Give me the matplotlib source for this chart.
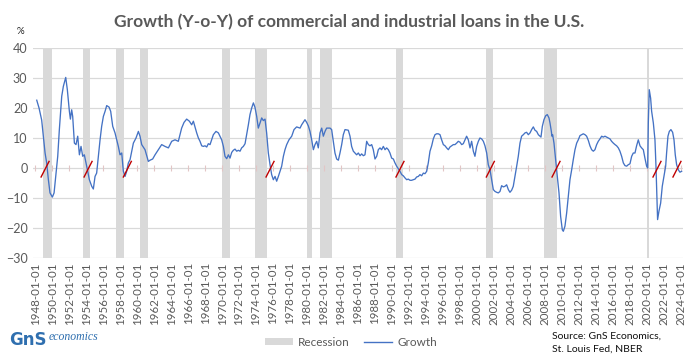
import matplotlib
matplotlib.use("Agg")
import matplotlib.pyplot as plt
from matplotlib.patches import Patch
from matplotlib.lines import Line2D

# ---------------- data ----------------
years = [
    1948.20, 1948.47, 1948.78, 1948.98, 1949.18, 1949.37, 1949.57, 1949.76, 1950.04, 1950.24,
    1950.47, 1950.67, 1950.86, 1951.14, 1951.33, 1951.61, 1951.80, 1952.04, 1952.16, 1952.31,
    1952.43, 1952.63, 1952.82, 1953.02, 1953.22, 1953.41, 1953.61, 1953.80, 1954.00, 1954.20,
    1954.39, 1954.67, 1954.86, 1955.06, 1955.25, 1955.45, 1955.65, 1955.84, 1956.04, 1956.24,
    1956.43, 1956.71, 1956.90, 1957.14, 1957.41, 1957.61, 1957.80, 1958.00, 1958.20, 1958.39,
    1958.59, 1958.78, 1958.98, 1959.18, 1959.57, 1959.88, 1960.16, 1960.35, 1960.55, 1960.94,
    1961.33, 1961.53, 1961.84, 1962.12, 1962.51, 1962.90, 1963.29, 1963.69, 1964.08, 1964.47,
    1964.86, 1965.25, 1965.53, 1965.84, 1966.16,
    1966.43, 1966.63, 1966.82, 1967.02, 1967.22, 1967.41, 1967.61, 1967.80, 1968.00, 1968.20,
    1968.39, 1968.59, 1968.78, 1968.98, 1969.29, 1969.57, 1969.76, 1969.96, 1970.16, 1970.35,
    1970.55, 1970.75, 1970.94, 1971.14, 1971.33, 1971.53, 1971.73, 1971.92, 1972.12, 1972.31,
    1972.51, 1972.71, 1972.90, 1973.10, 1973.29, 1973.49, 1973.69, 1973.88, 1974.08, 1974.27,
    1974.47, 1974.67, 1974.86, 1975.06, 1975.25, 1975.45, 1975.65, 1975.84, 1976.04, 1976.24,
    1976.43, 1976.63, 1976.82, 1977.02, 1977.22, 1977.41, 1977.61, 1977.88, 1978.20, 1978.47,
    1978.78, 1979.18, 1979.37, 1979.76, 1979.96, 1980.16, 1980.35, 1980.55, 1980.75, 1980.94,
    1981.14, 1981.33, 1981.53, 1981.73, 1981.92, 1982.12, 1982.31, 1982.71, 1982.90, 1983.10,
    1983.29, 1983.49, 1983.69, 1983.88, 1984.08, 1984.27, 1984.47, 1984.86, 1985.06, 1985.25,
    1985.45, 1985.65, 1985.84, 1986.04, 1986.24, 1986.43, 1986.63, 1986.82, 1987.02, 1987.22,
    1987.41, 1987.61, 1987.80, 1988.00, 1988.20, 1988.39, 1988.59, 1988.78, 1988.98, 1989.18,
    1989.37, 1989.57, 1989.76, 1989.96, 1990.16, 1990.35, 1990.55, 1990.75, 1990.94, 1991.14,
    1991.33, 1991.53, 1991.73, 1991.92, 1992.12, 1992.31, 1992.51, 1992.71, 1992.90, 1993.10,
    1993.29, 1993.49, 1993.69, 1993.88, 1994.08, 1994.27, 1994.47, 1994.67, 1994.86, 1995.06,
    1995.25, 1995.45, 1995.65, 1995.84, 1996.04, 1996.24, 1996.43, 1996.63, 1996.82, 1997.02,
    1997.22, 1997.41, 1997.61, 1997.80, 1998.00, 1998.20, 1998.39, 1998.59, 1998.78, 1998.98,
    1999.18, 1999.37, 1999.57, 1999.76, 1999.96, 2000.16, 2000.35, 2000.55, 2000.75, 2000.94,
    2001.14, 2001.33, 2001.53, 2001.73, 2001.92, 2002.12, 2002.31, 2002.51, 2002.71, 2002.90,
    2003.10, 2003.29, 2003.49, 2003.69, 2003.88, 2004.08, 2004.27,
    2004.47, 2004.67, 2004.86, 2005.06, 2005.25, 2005.45, 2005.65, 2005.84, 2006.04, 2006.24,
    2006.43, 2006.63, 2006.82, 2007.02, 2007.22, 2007.41, 2007.53, 2007.69, 2007.88, 2008.08,
    2008.27, 2008.47, 2008.59, 2008.75, 2008.82, 2008.90, 2009.06, 2009.25, 2009.45, 2009.65,
    2009.84, 2010.04, 2010.16, 2010.35, 2010.55, 2010.75, 2010.94, 2011.14, 2011.33, 2011.53,
    2011.73, 2011.92, 2012.12, 2012.31, 2012.51, 2012.71, 2012.90, 2013.10, 2013.29, 2013.49,
    2013.69, 2013.88, 2014.08, 2014.27, 2014.47, 2014.67, 2014.86, 2015.06, 2015.25, 2015.45,
    2015.65, 2015.84, 2016.04, 2016.24, 2016.43, 2016.63, 2016.82, 2017.02, 2017.22, 2017.41,
    2017.61, 2017.80, 2018.00, 2018.20, 2018.39, 2018.59, 2018.78, 2018.98, 2019.18, 2019.37,
    2019.57, 2019.76, 2019.96, 2020.08, 2020.16, 2020.27, 2020.43, 2020.55, 2020.75, 2020.94,
    2021.06, 2021.14, 2021.25, 2021.41, 2021.61, 2021.80, 2022.00, 2022.20, 2022.31, 2022.47,
    2022.63, 2022.82, 2023.02, 2023.18, 2023.33, 2023.49, 2023.69, 2023.88, 2024.08,
]

growth = [
    22.6, 20.0, 16.0, 10.5, 5.0, 1.7, -3.9, -8.3, -9.7, -8.3,
    -1.7, 3.9, 12.8, 23.9, 27.2, 30.2, 26.1, 18.9, 16.3, 19.4,
    17.2, 8.3, 7.8, 10.6, 4.4, 7.2, 3.9, 4.4, 1.7, -1.1,
    -3.9, -6.1, -7.0, -2.8, -1.7, 3.9, 9.4, 13.9, 17.2, 18.9,
    20.8, 20.3, 18.9, 13.9, 11.7, 9.4, 7.2, 4.4, 5.0, -1.1,
    -2.8, -1.1, 1.7, 2.8, 8.3, 10.0, 12.2, 10.6, 7.8, 6.1,
    2.2, 2.6, 3.0, 4.4, 6.1, 7.8, 7.2, 6.7, 8.9, 9.4,
    8.9, 13.3, 15.2, 16.3, 15.6,
    14.4, 15.6, 13.7, 11.7, 10.0, 8.9, 7.4, 7.2, 7.4, 7.0,
    8.1, 7.8, 9.4, 11.1, 12.2, 11.7, 10.6, 9.4, 7.2, 3.9,
    3.1, 4.4, 3.3, 5.2, 5.9, 6.3, 5.6, 5.9, 5.6, 6.7,
    7.2, 8.1, 11.1, 14.4, 17.8, 20.0, 21.7, 20.2, 17.2, 13.3,
    15.0, 16.7, 15.8, 16.3, 11.7, 5.0, 1.1, -2.2, -3.9, -2.8,
    -4.4, -2.8, -1.1, 0.6, 3.9, 6.1, 7.8, 9.4, 10.6, 12.8,
    13.7, 13.3, 14.4, 16.1, 15.2, 14.0, 12.2, 9.4, 6.1, 7.8,
    8.9, 6.7, 11.7, 13.3, 10.6, 12.2, 13.3, 13.3, 12.8, 8.9,
    5.0, 3.0, 2.6, 5.0, 7.8, 11.1, 12.8, 12.6, 10.6, 7.2,
    5.6, 5.0, 4.4, 5.0, 4.1, 4.7, 4.1, 4.4, 8.9, 7.8,
    7.4, 7.8, 6.1, 3.0, 3.9, 6.1, 6.7, 6.1, 7.2, 6.1,
    6.7, 6.1, 5.0, 3.3, 3.0, 1.7, 0.6, -0.3, -1.1, -2.2,
    -2.6, -3.3, -3.9, -3.7, -4.1, -4.1, -3.9, -3.7, -3.0, -2.8,
    -2.2, -2.6, -1.7, -1.9, -1.1, 1.7, 5.6, 7.4, 9.7, 11.1,
    11.4, 11.4, 11.1, 9.4, 7.8, 7.4, 6.7, 6.1, 7.0, 7.4,
    7.8, 7.8, 8.3, 8.9, 8.6, 7.8, 8.1, 9.4, 10.6, 9.4,
    6.7, 8.9, 5.6, 3.9, 7.2, 8.9, 10.0, 9.7, 8.9, 7.4,
    5.0, 1.1, -0.6, -3.9, -7.2, -7.8, -8.1, -8.3, -7.8, -5.9,
    -6.3, -6.1, -5.6, -7.2, -8.1, -7.4, -6.1,
    -2.8, 0.6, 3.9, 8.3, 10.6, 11.1, 11.7, 11.9, 11.1, 11.7,
    12.8, 13.7, 12.6, 12.2, 11.1, 10.6, 10.3, 13.9, 16.1, 17.4,
    17.8, 16.7, 15.0, 12.2, 10.6, 11.1, 8.3, 2.8, -2.8, -8.3,
    -16.1, -20.6, -21.1, -19.4, -15.0, -9.4, -3.9, -0.6, 2.8, 6.1,
    8.3, 9.4, 10.8, 11.1, 11.4, 11.1, 10.6, 9.2, 7.4, 6.1,
    5.6, 6.1, 7.8, 8.9, 9.7, 10.6, 10.3, 10.6, 10.3, 10.0,
    9.7, 8.9, 8.3, 7.8, 7.4, 6.7, 5.6, 3.9, 1.7, 0.8,
    0.6, 1.1, 1.4, 3.9, 5.0, 5.0, 7.4, 9.4, 7.4, 6.7,
    6.1, 3.3, 0.6, 0.0, 15.0, 26.1, 23.3, 18.9, 15.0, 9.4,
    0.6, -7.2, -17.2, -14.4, -11.7, -6.1, -2.8, 0.6, 5.0, 10.6,
    12.2, 12.8, 11.9, 9.4, 4.4, 1.1, -0.6, -1.4, -1.1,
]

# NBER recessions as drawn (start, end, decimal years)
rec_start = [1948.98, 1953.68, 1957.53, 1960.35, 1970.04, 1973.88, 1980.04, 1981.53,
             1990.47, 2001.06, 2007.92, 2020.04]
rec_end = [1949.96, 1954.47, 1958.47, 1961.26, 1970.94, 1975.26, 1980.55, 1982.90,
           1991.26, 2001.85, 2009.37, 2020.20]

# red slash markers at the zero crossings
slash_years = [1949.18, 1954.24, 1958.86, 1975.65, 1990.94, 2001.57, 2009.30, 2021.18, 2023.53]

tick_years = list(range(1948, 2025, 2))
tick_labels = [f"{y}-01-01" for y in tick_years]
y_ticks = [-30, -20, -10, 0, 10, 20, 30, 40]

# ---------------- figure ----------------
W, H = 697, 362
fig = plt.figure(figsize=(W / 100, H / 100), dpi=100)
fig.patch.set_facecolor("white")
ax = fig.add_axes([33 / W, 1 - 258 / H, 650 / W, 210 / H])

FONT = "Lato"
GREY = "#595959"
LOGO = "#2F6FAF"

for s, e in zip(rec_start, rec_end):
    ax.axvspan(s, e, color="#D9D9D9", lw=0, zorder=1)

ax.set_ylim(-30, 40)
ax.set_xlim(1947.76, 2024.24)
ax.set_yticks(y_ticks)
ax.grid(axis="y", color="#D9D9D9", lw=0.9, zorder=0)
ax.set_axisbelow(True)

# small ticks on the zero line
ax.vlines(tick_years, -0.9, 0.9, color="#E2C6C6", lw=0.8, zorder=2)

ax.plot(years, growth, color="#4472C4", lw=0.95, zorder=3)

for yr in slash_years:
    ax.plot([yr - 0.47, yr + 0.47], [-3.0, 2.2], color="#C00000", lw=1.0, zorder=4)

for sp in ax.spines.values():
    sp.set_visible(False)

ax.set_xticks(tick_years)
ax.set_xticklabels(tick_labels, rotation=90, fontsize=8.3, color=GREY, family=FONT)
ax.tick_params(axis="x", length=0, pad=3)
ax.tick_params(axis="y", length=0, pad=4, labelsize=9, labelcolor=GREY)
for lab in ax.get_yticklabels():
    lab.set_family(FONT)

fig.text(349 / W, 1 - 22 / H, "Growth (Y-o-Y) of commercial and industrial loans in the U.S.",
         ha="center", va="center", fontsize=12.5, fontweight="bold", color=GREY, family=FONT)
fig.text(20 / W, 1 - 31 / H, "%", ha="center", va="center", fontsize=7, color="#222222", family=FONT)

handles = [Patch(facecolor="#D9D9D9", edgecolor="none", label="Recession"),
           Line2D([0], [0], color="#4472C4", lw=1.0, label="Growth")]
leg = fig.legend(handles=handles, loc="center", bbox_to_anchor=(351 / W, 1 - 342 / H),
                 ncol=2, frameon=False, fontsize=8.5, handlelength=2.4, handleheight=0.6,
                 columnspacing=1.2, handletextpad=0.4)
for t in leg.get_texts():
    t.set_color(GREY)
    t.set_family(FONT)

fig.text(552 / W, 1 - 336 / H, "Source: GnS Economics,", ha="left", va="center",
         fontsize=7.5, color="#111111", family=FONT)
fig.text(552 / W, 1 - 349 / H, "St. Louis Fed, NBER", ha="left", va="center",
         fontsize=7.5, color="#111111", family=FONT)

# logo
fig.text(9 / W, 1 - 340 / H, "GnS", ha="left", va="center", fontsize=12, fontweight="bold",
         color=LOGO, family="DejaVu Sans")
fig.text(49 / W, 1 - 337 / H, "economics", ha="left", va="center", fontsize=8.5,
         color=LOGO, family="Liberation Serif", style="italic")

fig.savefig("out.png", dpi=100, facecolor="white")
